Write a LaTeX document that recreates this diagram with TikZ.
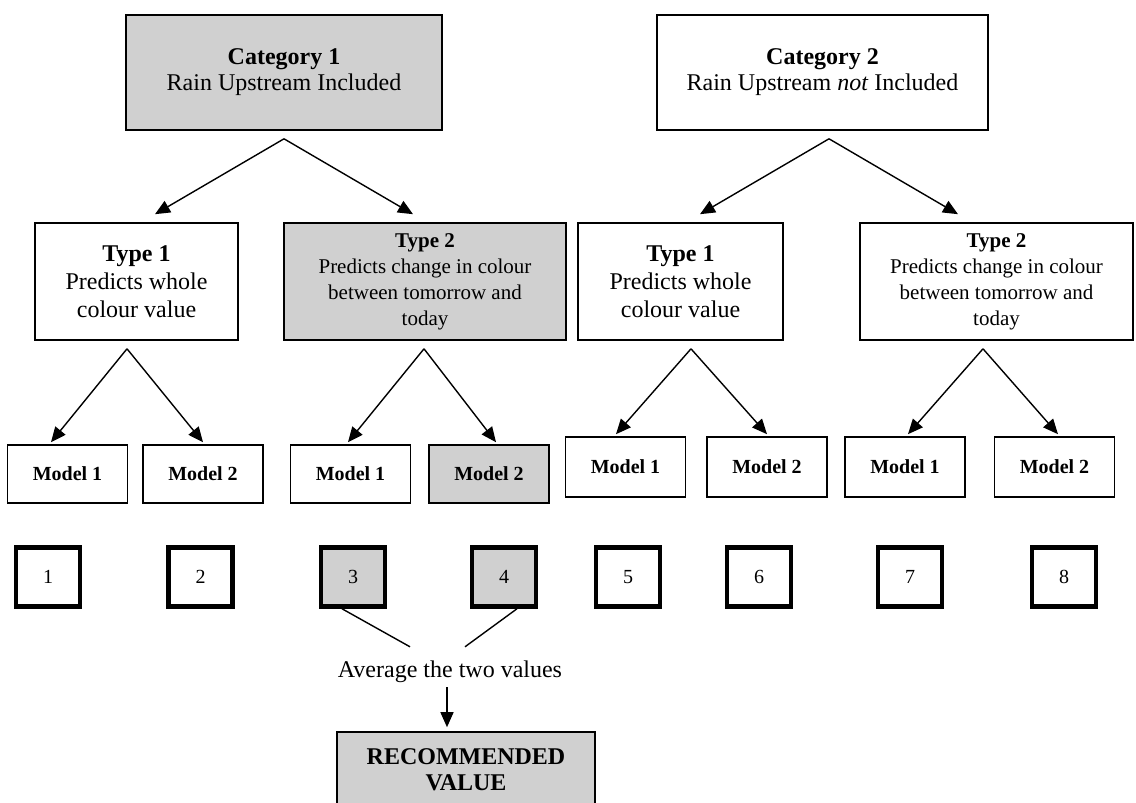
\documentclass[tikz,border=0pt]{standalone}
\usepackage{fontspec}
\setmainfont{Liberation Serif}
\usetikzlibrary{arrows.meta,positioning,calc}
\definecolor{shade}{RGB}{208,208,208}
\tikzset{
  >={Triangle[length=15pt,width=13pt]},
  box/.style={draw=black,line width=1.6pt,fill=#1,align=center,inner sep=2pt},
  box/.default=white,
  catbox/.style={box=#1,minimum width=316pt,minimum height=115pt,
    font=\fontsize{24}{26}\selectfont},
  catbox/.default=white,
  typebox/.style={box=#1,minimum height=117pt,font=\fontsize{24}{28}\selectfont},
  typebox/.default=white,
  changebox/.style={box=#1,minimum height=117pt,font=\fontsize{21}{26}\selectfont},
  changebox/.default=white,
  modelbox/.style={box=#1,minimum width=120pt,minimum height=58pt,
    font=\fontsize{20}{24}\selectfont\bfseries},
  modelbox/.default=white,
  numbox/.style={draw=black,line width=4.5pt,fill=#1,minimum width=64pt,
    minimum height=59pt,inner sep=0pt,font=\fontsize{20}{24}\selectfont},
  numbox/.default=white,
  arr/.style={->,line width=1.4pt},
  link/.style={line width=1.4pt},
}
\begin{document}
\begin{tikzpicture}[x=1pt,y=-1pt]
  \clip (0,0) rectangle (1136,803);
  \fill[white] (0,0) rectangle (1136,803);
  % categories
  \node[catbox=shade] (cat1) at (284,72.5) {\textbf{Category 1}\\Rain Upstream Included};
  \node[catbox,minimum width=331pt] (cat2) at (822.5,72.5) {\textbf{Category 2}\\Rain Upstream \textit{not} Included};
  % types
  \node[typebox,minimum width=203pt] (t1a) at (136.5,281.5) {\textbf{Type 1}\\Predicts whole\\colour value};
  \node[changebox=shade,minimum width=282pt] (t2a) at (425,281.5) {\textbf{Type 2}\\Predicts change in colour\\between tomorrow and\\today};
  \node[typebox,minimum width=205pt] (t1b) at (680.5,281.5) {\textbf{Type 1}\\Predicts whole\\colour value};
  \node[changebox,minimum width=273pt] (t2b) at (996.5,281.5) {\textbf{Type 2}\\Predicts change in colour\\between tomorrow and\\today};
  % models
  \node[modelbox] (m1a) at (67.5,474) {Model 1};
  \node[modelbox] (m2a) at (203,474) {Model 2};
  \node[modelbox] (m1b) at (350.5,474) {Model 1};
  \node[modelbox=shade] (m2b) at (489,474) {Model 2};
  \node[modelbox,minimum height=60pt] (m1c) at (625.5,467) {Model 1};
  \node[modelbox,minimum height=60pt] (m2c) at (767,467) {Model 2};
  \node[modelbox,minimum height=60pt] (m1d) at (905,467) {Model 1};
  \node[modelbox,minimum height=60pt] (m2d) at (1054.5,467) {Model 2};
  % numbered results
  \node[numbox] (sq1) at (48,577) {1};
  \node[numbox] (sq2) at (200.5,577) {2};
  \node[numbox=shade] (sq3) at (353,577) {3};
  \node[numbox=shade] (sq4) at (504,577) {4};
  \node[numbox] (sq5) at (628,577) {5};
  \node[numbox] (sq6) at (759,577) {6};
  \node[numbox] (sq7) at (910,577) {7};
  \node[numbox] (sq8) at (1064,577) {8};
  \node[inner sep=0pt,minimum height=50pt,font=\fontsize{24}{26}\selectfont] (avg) at (450,672) {Average the two values};
  \node[box=shade,minimum width=258pt,minimum height=76pt,font=\fontsize{24}{26}\selectfont\bfseries] (rec) at (466,770) {RECOMMENDED\\VALUE};
  % branches
  \coordinate (c1) at ([yshift=-8pt]cat1.south);
  \coordinate (c2) at ([xshift=6.5pt,yshift=-8pt]cat2.south);
  \draw[arr] (c1) -- ([xshift=18.5pt,yshift=8pt]t1a.north);
  \draw[arr] (c1) -- ([xshift=-12pt,yshift=8pt]t2a.north);
  \draw[arr] (c2) -- ([xshift=19.5pt,yshift=8pt]t1b.north);
  \draw[arr] (c2) -- ([xshift=-38.5pt,yshift=8pt]t2b.north);
  \coordinate (a1) at ([xshift=-9.5pt,yshift=-8pt]t1a.south);
  \coordinate (a2) at ([xshift=-1pt,yshift=-8pt]t2a.south);
  \coordinate (a3) at ([xshift=10.5pt,yshift=-8pt]t1b.south);
  \coordinate (a4) at ([xshift=-13.5pt,yshift=-8pt]t2b.south);
  \draw[arr] (a1) -- ([xshift=-16.5pt,yshift=2pt]m1a.north);
  \draw[arr] (a1) -- ([yshift=2pt]m2a.north);
  \draw[arr] (a2) -- ([xshift=-2.5pt,yshift=2pt]m1b.north);
  \draw[arr] (a2) -- ([xshift=7pt,yshift=2pt]m2b.north);
  \draw[arr] (a3) -- ([xshift=-9.5pt,yshift=2pt]m1c.north);
  \draw[arr] (a3) -- ([yshift=2pt]m2c.north);
  \draw[arr] (a4) -- ([xshift=3pt,yshift=2pt]m1d.north);
  \draw[arr] (a4) -- ([xshift=3.5pt,yshift=2pt]m2d.north);
  % averaging
  \draw[link] ([xshift=-11pt]sq3.south) -- ([xshift=-40pt]avg.north);
  \draw[link] ([xshift=13pt]sq4.south) -- ([xshift=15pt]avg.north);
  \draw[arr] ([xshift=-3pt,yshift=10pt]avg.south) -- ([xshift=-19pt,yshift=4pt]rec.north);
\end{tikzpicture}
\end{document}
